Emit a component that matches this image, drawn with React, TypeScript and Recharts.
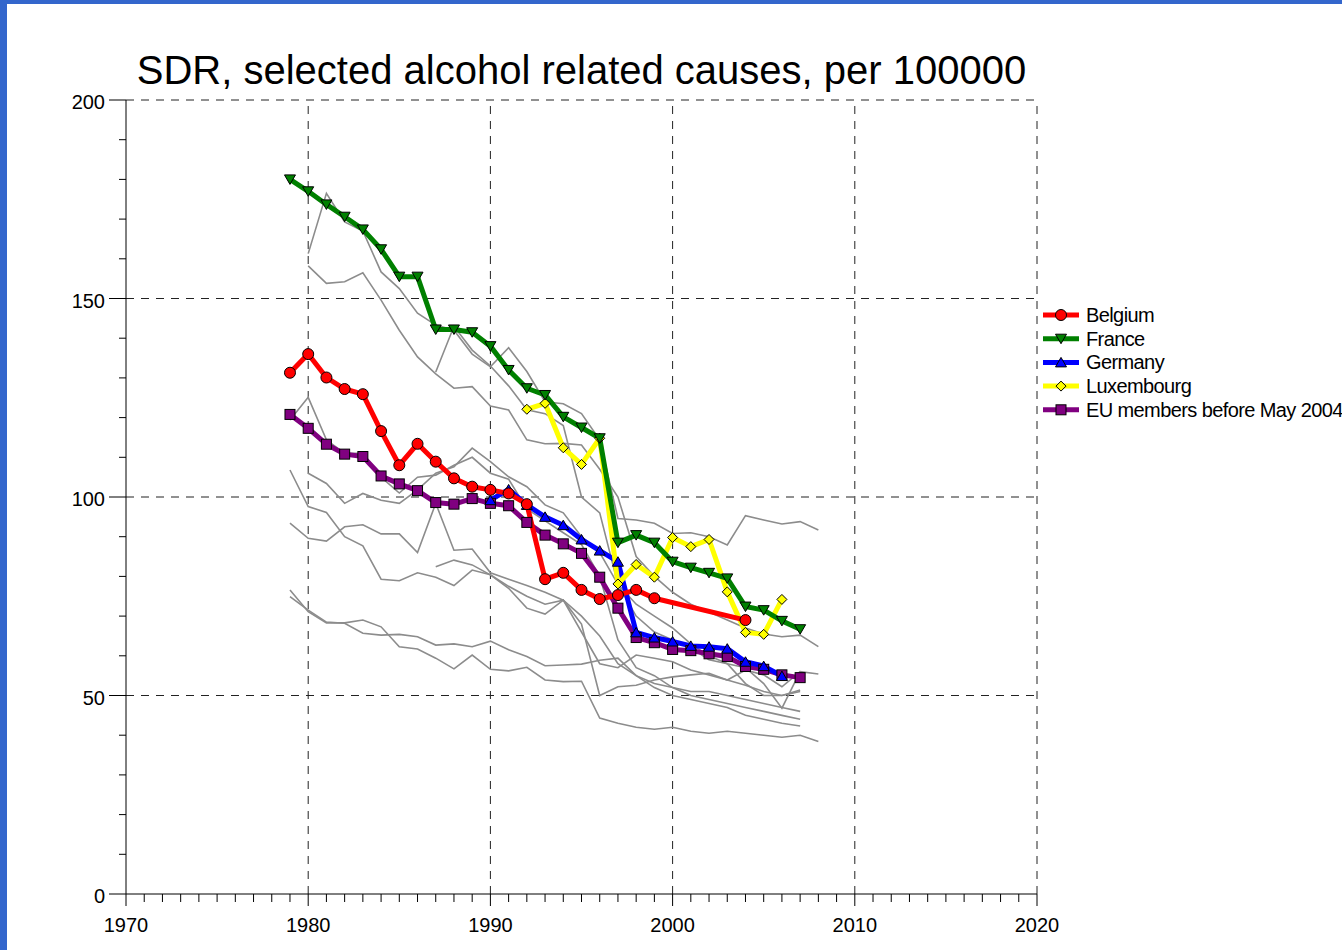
import { LineChart, Line, XAxis, YAxis, ReferenceLine } from 'recharts';

// years 1979..2008
const years = [1979, 1980, 1981, 1982, 1983, 1984, 1985, 1986, 1987, 1988, 1989, 1990, 1991, 1992, 1993, 1994, 1995, 1996, 1997, 1998, 1999, 2000, 2001, 2002, 2003, 2004, 2005, 2006, 2007, 2008];

const belgium = [131.3, 136, 130.1, 127.2, 125.9, 116.6, 108, 113.4, 108.9, 104.7, 102.6, 101.8, 100.9, 98.2, 79.3, 80.9, 76.6, 74.3, 75.3, 76.6, 74.5, null, null, null, null, 69.0, null, null, null, null];
const france = [180, 177, 173.7, 170.6, 167.4, 162.4, 155.5, 155.5, 142.2, 142.2, 141.5, 138, 132, 127.4, 125.7, 120.2, 117.5, 114.8, 88.5, 90.4, 88.5, 83.7, 82.2, 80.9, 79.5, 72.4, 71.5, 68.8, 66.7, null];
const germany = [null, null, null, null, null, null, null, null, null, null, null, 99.2, 101.9, 98, 95, 92.9, 89.3, 86.5, 83.7, 65.9, 64.6, 63.6, 62.5, 62.3, 61.8, 58.5, 57.4, 54.9, null, null];
const luxembourg = [null, null, null, null, null, null, null, null, null, null, null, null, null, 122.1, 123.6, 112.4, 108.2, 114.8, 78.1, 83, 79.8, 89.8, 87.5, 89.3, 76.1, 65.9, 65.4, 74.2, null, null];
const euBefore2004 = [120.8, 117.3, 113.3, 110.8, 110.2, 105.3, 103.3, 101.6, 98.6, 98.2, 99.6, 98.4, 97.8, 93.6, 90.4, 88.2, 85.8, 79.8, 72, 64.6, 63.3, 61.6, 61.3, 60.5, 59.8, 57.3, 56.6, 55.2, 54.5, null];

// other member states, drawn in grey
const other1 = [null, 161.3, 176.5, 169.3, 167, 156.7, 152.5, 146.3, 143.3, 142, 136, 132.8, 137.6, 131.6, 124, 123.5, 121, 114.4, 94.6, 94.2, 93.4, 90.8, 91, 90, 87.9, 95.3, 94.2, 93.2, 93.8, 91.7];
const other2 = [null, 158.2, 153.8, 154.2, 156.5, 149.6, 142, 135.3, 131, 127.4, 127.8, 122.9, 121.9, 114.4, 113.4, 113.5, 113.1, 107, 100, 85, 80, 76, 73, 71, 69, 67, 65.5, 64.8, 65.2, 62.3];
const other3 = [null, null, null, null, null, null, null, null, 131.5, 143, 137, 133, 128, 122, 121, 118, 100, 96, 78, 70, 66, 64, 62, 59, 58, 57, 53, 46.8, 56, null];
const other4 = [119.4, 125.1, 114.4, 111, 111, 105, 101, 105, 105.5, 108, 110, 106, 104.5, 97, 94, 91, 88, 80, 64, 57, 55, 52, 50, 49, 48, 47, 46, 45, 44, null];
const other5 = [null, 106, 103.4, 98.4, 100.9, 99.2, 98.4, 101.8, 106, 107.6, 112.3, 108.9, 105.1, 102.6, 98, 96, 90, 86, 78, 73, 70, 67, 63, 60, 58, 53, 50, 50, 51, null];
const other6 = [93.4, 89.6, 88.9, 92.5, 93, 90.7, 90.7, 86, 98.4, 86.6, 86.9, 80.9, 79.3, 77.7, 76, 74, 70, 65, 58, 55, 53, 52, 51, 51, 50, 49, 48, 47, 46, null];
const other7 = [106.8, 97.6, 96.1, 90, 87.7, 79.3, 78.9, 80.9, 79.8, 77.7, 81.6, 80.4, 77.5, 75, 73, 74, 68, 50, 52.2, 52.6, 53.9, 54.7, 55.2, 55.6, 53.9, 56.4, 55.2, 52.2, 56, 55.4];
const other8 = [null, null, null, null, null, null, null, null, 82.4, 84.1, 82.9, 80.4, 77, 72, 70.5, 74, 66, 58, 57, 60.2, 59.4, 58.5, 56.4, 55.2, 53.9, 52.6, 51, 50, 51.4, null];
const other9 = [76.6, 71.1, 68.3, 68.3, 69, 67.3, 62.3, 61.7, 59.4, 56.7, 60.2, 56.6, 56.2, 57.1, 53.9, 53.5, 53.6, 44.3, 43, 42, 41.5, 42, 41, 40.5, 41, 40.5, 40, 39.5, 40, 38.4];
const other10 = [74.9, 71.5, 68.5, 68.2, 65.7, 65.2, 65.4, 64.8, 62.7, 63, 62.3, 63.7, 61.5, 59.8, 57.5, 57.7, 57.9, 58.9, 59.4, 55, 52, 50, 49, 48, 47, 45, 44, 43, 42.3, null];

const others = [other1, other2, other3, other4, other5, other6, other7, other8, other9, other10];

const xTicks = Array.from({ length: 51 }, (_, i) => 1970 + i);
const yTicks = Array.from({ length: 21 }, (_, i) => i * 10);
const xGrid = [1980, 1990, 2000, 2010, 2020];
const yGrid = [50, 100, 150, 200];

const legendItems = [
  { name: 'Belgium', color: '#ff0000', shape: 'circle' },
  { name: 'France', color: '#008000', shape: 'down' },
  { name: 'Germany', color: '#0000ff', shape: 'up' },
  { name: 'Luxembourg', color: '#ffff00', shape: 'diamond' },
  { name: 'EU members before May 2004', color: '#800080', shape: 'square' },
];

const data = years.map((year, i) => {
  const row: Record<string, number | null> = {
    year,
    belgium: belgium[i],
    france: france[i],
    germany: germany[i],
    luxembourg: luxembourg[i],
    eu: euBefore2004[i],
  };
  others.forEach((s, k) => {
    row['o' + k] = s[i];
  });
  return row;
});

const FONT = 'Liberation Sans, Arial, sans-serif';

const marker = (shape: string, color: string, cx: number, cy: number, key?: any) => {
  const common = { fill: color, stroke: '#000', strokeWidth: 1 };
  if (shape === 'circle') return <circle key={key} cx={cx} cy={cy} r={5.5} {...common} />;
  if (shape === 'down')
    return <polygon key={key} points={`${cx - 5.5},${cy - 4.5} ${cx + 5.5},${cy - 4.5} ${cx},${cy + 5}`} {...common} />;
  if (shape === 'up')
    return <polygon key={key} points={`${cx - 5.5},${cy + 4.5} ${cx + 5.5},${cy + 4.5} ${cx},${cy - 5}`} {...common} />;
  if (shape === 'diamond')
    return <polygon key={key} points={`${cx},${cy - 5} ${cx + 5},${cy} ${cx},${cy + 5} ${cx - 5},${cy}`} {...common} />;
  return <rect key={key} x={cx - 5} y={cy - 5} width={10} height={10} {...common} />;
};

const dotFor = (shape: string, color: string) => (props: any) => {
  const { cx, cy, value, index } = props;
  if (cx == null || cy == null || value == null) return <g key={'e' + index} />;
  return marker(shape, color, cx, cy, 'd' + index);
};

const XTick = (props: any) => {
  const { x, y, payload } = props;
  const v = payload.value;
  const major = v % 10 === 0;
  return (
    <g>
      <line x1={x} y1={y} x2={x} y2={y + (major ? 12 : 8)} stroke="#000" />
      {major && (
        <text x={x} y={y + 38} textAnchor="middle" fontSize={20} fontFamily={FONT} fill="#000">
          {v}
        </text>
      )}
    </g>
  );
};

const YTick = (props: any) => {
  const { x, y, payload } = props;
  const v = payload.value;
  const major = v % 50 === 0;
  return (
    <g>
      <line x1={x - (major ? 17 : 7)} y1={y} x2={x} y2={y} stroke="#000" />
      {major && (
        <text x={x - 21} y={y + 9} textAnchor="end" fontSize={20} fontFamily={FONT} fill="#000">
          {v}
        </text>
      )}
    </g>
  );
};

export default function App() {
  return (
    <div style={{ position: 'absolute', left: 0, top: 0, width: 1342, height: 950, overflow: 'hidden', background: '#fff' }}>
      <div
        style={{
          position: 'absolute',
          left: 126,
          width: 911,
          top: 50,
          textAlign: 'center',
          fontFamily: FONT,
          fontSize: 40,
          lineHeight: 1,
          color: '#000',
          whiteSpace: 'nowrap',
        }}
      >
        SDR, selected alcohol related causes, per 100000
      </div>
      <div style={{ position: 'absolute', left: 0, top: 0 }}>
        <LineChart width={1342} height={950} data={data} margin={{ top: 100, right: 305, bottom: 16, left: 66 }}>
          <XAxis
            dataKey="year"
            type="number"
            domain={[1970, 2020]}
            ticks={xTicks}
            interval={0}
            tick={<XTick />}
            tickLine={false}
            tickSize={0}
            tickMargin={0}
            height={40}
            axisLine={{ stroke: '#000' }}
          />
          <YAxis
            type="number"
            domain={[0, 200]}
            ticks={yTicks}
            interval={0}
            tick={<YTick />}
            tickLine={false}
            tickSize={0}
            tickMargin={0}
            width={60}
            axisLine={{ stroke: '#000' }}
          />
          {xGrid.map((x) => (
            <ReferenceLine key={'x' + x} x={x} stroke="#222" strokeDasharray="8 7" />
          ))}
          {yGrid.map((y) => (
            <ReferenceLine key={'y' + y} y={y} stroke="#222" strokeDasharray="8 7" />
          ))}
          {others.map((_, k) => (
            <Line
              key={'o' + k}
              dataKey={'o' + k}
              stroke="#8c8c8c"
              strokeWidth={1.6}
              dot={false}
              activeDot={false}
              isAnimationActive={false}
            />
          ))}
          <Line dataKey="eu" stroke="#800080" strokeWidth={5} strokeLinejoin="round" dot={dotFor('square', '#800080')} activeDot={false} isAnimationActive={false} />
          <Line dataKey="germany" stroke="#0000ff" strokeWidth={5} strokeLinejoin="round" dot={dotFor('up', '#0000ff')} activeDot={false} isAnimationActive={false} />
          <Line dataKey="luxembourg" stroke="#ffff00" strokeWidth={5} strokeLinejoin="round" dot={dotFor('diamond', '#ffff00')} activeDot={false} isAnimationActive={false} />
          <Line dataKey="france" stroke="#008000" strokeWidth={5} strokeLinejoin="round" dot={dotFor('down', '#008000')} activeDot={false} isAnimationActive={false} />
          <Line dataKey="belgium" stroke="#ff0000" strokeWidth={5} strokeLinejoin="round" connectNulls dot={dotFor('circle', '#ff0000')} activeDot={false} isAnimationActive={false} />
        </LineChart>
      </div>
      <svg style={{ position: 'absolute', left: 1040, top: 295 }} width={302} height={130}>
        {legendItems.map((item, i) => {
          const cy = 20 + i * 23.7;
          return (
            <g key={item.name}>
              <line x1={3} y1={cy} x2={39} y2={cy} stroke={item.color} strokeWidth={5} />
              {marker(item.shape, item.color, 21, cy)}
              <text x={46} y={cy + 7} fontSize={20} fontFamily={FONT} fill="#000" letterSpacing={-0.6}>
                {item.name}
              </text>
            </g>
          );
        })}
      </svg>
      <div style={{ position: 'absolute', left: 0, top: 0, width: 1342, height: 4, background: '#3366cc' }} />
      <div style={{ position: 'absolute', left: 0, top: 0, width: 7, height: 950, background: '#3366cc' }} />
    </div>
  );
}
